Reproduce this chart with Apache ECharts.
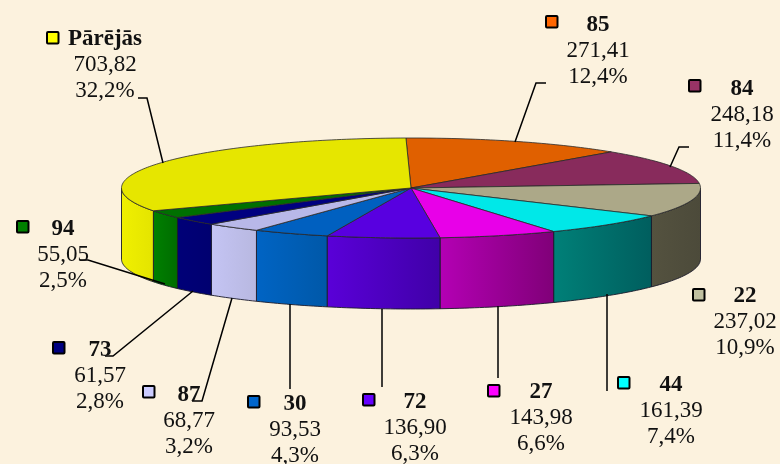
<!DOCTYPE html>
<html><head><meta charset="utf-8">
<style>html,body{margin:0;padding:0;background:#fcf2de}#c{width:780px;height:464px}</style>
<script src="https://cdn.jsdelivr.net/npm/echarts@6/dist/echarts.min.js"></script>
</head><body><div id="c"></div>
<script>
const categories = ['85','84','22','44','27','72','30','87','73','94','Pārējās'];
const values = [271.41,248.18,237.02,161.39,143.98,136.90,93.53,68.77,61.57,55.05,703.82];
const percents = ['12,4%','11,4%','10,9%','7,4%','6,6%','6,3%','4,3%','3,2%','2,8%','2,5%','32,2%'];

// styles
const topColors = ['#e06000','#882b5c','#aca888','#00e8e8','#e800e8','#5800e0','#0060c0','#b8b8e8','#000080','#007000','#e6e600'];
const wallLeft = ['#e06000','#882b5c','#54523f','#008078','#b400b4','#5a00d8','#0064c4','#c4c4f4','#000078','#008000','#f0f000'];
const wallRight = ['#e06000','#882b5c','#4c4a3a','#005e5e','#800078','#4000a8','#0058a8','#b8b8e0','#000070','#006c00','#e4e400'];
const keyColors = ['#ff6600','#993366','#c0c0a0','#00ffff','#ff00ff','#6600ff','#0066cc','#ccccff','#000080','#008000','#ffff00'];

// layout
const CX = 411, CY = 188, RX = 289.5, RY = 50, DEPTH = 71, START = -1;
const labelX = [598,742,745,671,541,415,295,189,100,63,105];
const labelY = [25,89,296,385,392,402,404,395,350,229,39];
const keyPos = [[545,15],[688,79],[692,288],[617,376],[487,384],[362,393],[247,395],[142,385],[52,341],[16,220],[46,31]];
const leaders = [
  [[546,83],[536,83],[515,142]],
  [[689,147],[679,147],[670,167]],
  null,
  [[607,294],[607,391]],
  [[498,306],[498,378]],
  [[382,309],[382,387]],
  [[290,304],[290,389]],
  [[192,401],[202,401],[232,298]],
  [[105,356],[113,356],[193,291]],
  [[80,260],[88,260],[165,284]],
  [[138,98],[147,98],[163,163]]
];

const FONT = '"Liberation Serif","Times New Roman",serif';
const total = values.reduce((a,b)=>a+b,0);
const cum = [0]; values.forEach(v=>cum.push(cum[cum.length-1]+v));
const toAngle = v => echarts.number.linearMap(v,[0,total],[START,START+360]);
const pt = (deg,dy) => { const t=deg*Math.PI/180; return [CX+RX*Math.sin(t), CY-RY*Math.cos(t)+(dy||0)]; };
const arc = (a,b,dy) => { const n=Math.max(2,Math.ceil(Math.abs(b-a))); const r=[]; for(let i=0;i<=n;i++) r.push(pt(a+(b-a)*i/n,dy)); return r; };
const fmt = v => v.toFixed(2).replace('.',',');

function renderWalls(params, api){
  const i = params.dataIndex, a = toAngle(api.value(1)), b = toAngle(api.value(2));
  const s = Math.max(a,90), e = Math.min(b,270);
  if (e <= s) return {type:'group',children:[]};
  return {type:'polygon', shape:{points: arc(s,e,0).concat(arc(e,s,DEPTH))},
    style:{fill:new echarts.graphic.LinearGradient(0,0,1,0,[{offset:0,color:wallLeft[i]},{offset:1,color:wallRight[i]}]),stroke:'#1a1a2a',lineWidth:0.9}};
}
function renderTops(params, api){
  const i = params.dataIndex, a = toAngle(api.value(1)), b = toAngle(api.value(2));
  return {type:'polygon', shape:{points:[[CX,CY]].concat(arc(a,b,0))},
    style:{fill:topColors[i],stroke:'#2a2a2a',lineWidth:0.8}};
}
const rows = values.map((v,i)=>[v,cum[i],cum[i+1]]);
const graphics = [];
categories.forEach((c,i)=>{
  graphics.push({type:'rect',z:10,shape:{x:keyPos[i][0]+1,y:keyPos[i][1]+1,width:11.5,height:11.5,r:1},style:{fill:keyColors[i],stroke:'#000',lineWidth:2}});
  [[c,'bold'],[fmt(values[i]),'normal'],[percents[i],'normal']].forEach(([t,w],k)=>{
    graphics.push({type:'text',z:11,x:labelX[i],y:labelY[i]+k*26,style:{text:t,fill:'#111',align:'center',verticalAlign:'middle',font:w+' 23px '+FONT}});
  });
  if(leaders[i]) graphics.push({type:'polyline',z:9,shape:{points:leaders[i]},style:{fill:null,stroke:'#000',lineWidth:1.5}});
});
const chart = echarts.init(document.getElementById('c'),null,{renderer:'canvas'});
chart.setOption({
  animation:false,
  backgroundColor:'#fcf2de',
  series:[
    {type:'custom',coordinateSystem:'none',name:'walls',data:rows,renderItem:renderWalls,silent:true,z:1},
    {type:'custom',coordinateSystem:'none',name:'tops',data:rows,renderItem:renderTops,silent:true,z:2}
  ],
  graphic:graphics
});
</script></body></html>
